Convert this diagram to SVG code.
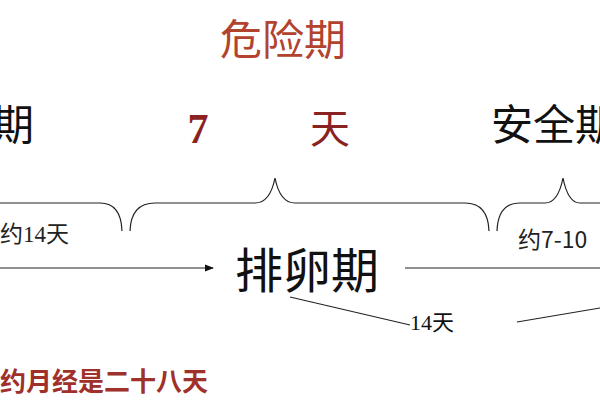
<svg xmlns="http://www.w3.org/2000/svg" width="600" height="400" viewBox="0 0 600 400">
<style>
.s{font-family:"Liberation Serif","Noto Sans CJK SC",serif}
.h{font-family:"Noto Sans CJK SC",sans-serif}
.ln{stroke:#222;stroke-width:1.2;fill:none}
</style>
<defs><marker id="a" markerWidth="8" markerHeight="8" refX="7" refY="4" orient="auto"><path d="M0,1 L8,4 L0,7Z" fill="#111"/></marker></defs>
<rect width="600" height="400" fill="#fff"/>
<g id="titles">
<text x="283" y="55" class="h" font-size="42" fill="#b2432e" text-anchor="middle">危险期</text>
<text x="-8" y="140" class="h" font-size="42" fill="#111">期</text>
<text x="198" y="143" class="s" font-size="42" font-weight="bold" fill="#8a2222" text-anchor="middle">7</text>
<text x="330" y="143" class="h" font-size="40" fill="#8a2222" text-anchor="middle">天</text>
<text x="491" y="140" class="h" font-size="42" fill="#111">安全期</text>
</g>
<g id="connectors">
<path class="ln" d="M0,203 H100 Q121,203 122,231"/>
<path class="ln" d="M130,231 Q131,203 155,203 H255 Q270,203 275,178 Q280,203 295,203 H465 Q488,203 489,231"/>
<path class="ln" d="M497,231 Q498,203 520,203 H545 Q558,203 563,178 Q568,203 580,203 H600"/>
<path class="ln" d="M0,268 H213" marker-end="url(#a)"/>
<path class="ln" d="M405,268 H600"/>
<path class="ln" d="M290,297 L410,325"/>
<path class="ln" d="M517,322 L600,308"/>
</g>
<g id="labels">
<text x="0" y="242" class="s" font-size="23" fill="#222">约14天</text>
<text x="518" y="248" class="h" font-size="23" fill="#222">约7-10</text>
<text x="307" y="288" class="s" font-size="48" fill="#111" text-anchor="middle">排卵期</text>
<text x="410" y="330" class="s" font-size="22" fill="#111">14天</text>
<text x="0" y="391" class="h" font-size="26" font-weight="bold" fill="#a0302a">约月经是二十八天</text>
</g>
</svg>
